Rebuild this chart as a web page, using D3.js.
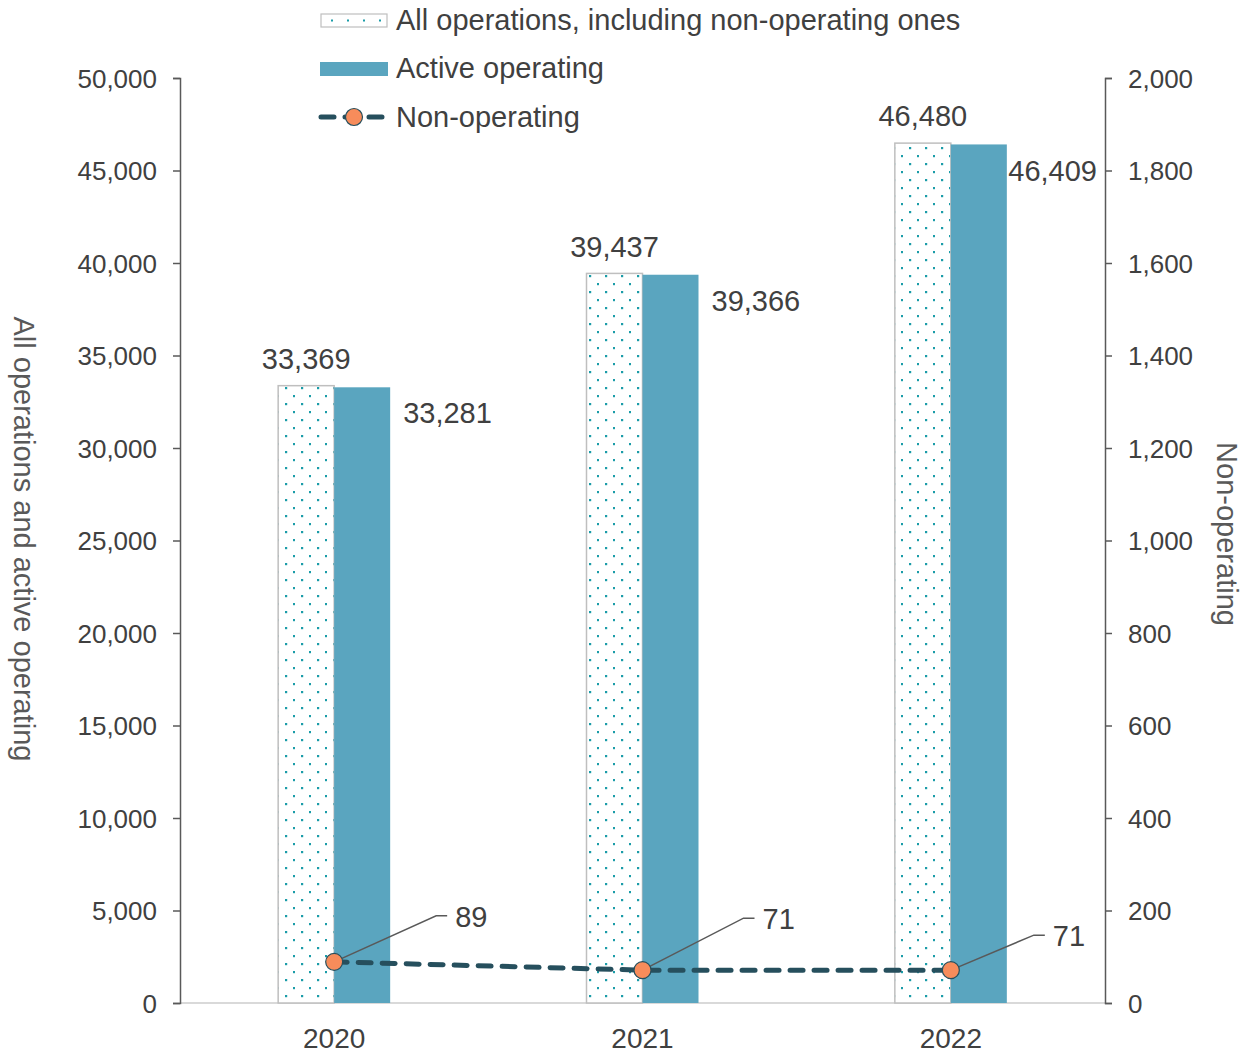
<!DOCTYPE html>
<html>
<head>
<meta charset="utf-8">
<script src="https://cdn.jsdelivr.net/npm/d3@7"></script>
<style>
  body { margin: 0; background: #fff; }
  svg text { font-family: "Liberation Sans", Arial, sans-serif; }
</style>
</head>
<body>
<div id="chart"></div>
<script>
// data
var years = ["2020", "2021", "2022"];
var allOps = [33369, 39437, 46480];
var activeOps = [33281, 39366, 46409];
var nonOps = [89, 71, 71];
var leftTicks = [0, 5000, 10000, 15000, 20000, 25000, 30000, 35000, 40000, 45000, 50000];
var rightTicks = [0, 200, 400, 600, 800, 1000, 1200, 1400, 1600, 1800, 2000];
var seriesNames = ["All operations, including non-operating ones", "Active operating", "Non-operating"];

var width = 1254, height = 1054;
var plotLeft = 180, plotRight = 1105, plotTop = 78, plotBottom = 1003;

var barColor = "#5aa5bf", dotColor = "#1a9ca8", lineColor = "#264f5d", markerColor = "#f78c5b";
var textColor = "#404040";

var svg = d3.select("#chart").append("svg")
  .attr("width", width).attr("height", height);

// dotted fill pattern
var defs = svg.append("defs");
var pat = defs.append("pattern")
  .attr("id", "dots").attr("patternUnits", "userSpaceOnUse")
  .attr("width", 16).attr("height", 16)
  .attr("x", 279).attr("y", 3);
pat.append("rect").attr("width", 16).attr("height", 16).attr("fill", "#fff");
pat.append("rect").attr("x", 6).attr("y", 0).attr("width", 2.2).attr("height", 2.2).attr("fill", dotColor);
pat.append("rect").attr("x", 14).attr("y", 8).attr("width", 2.2).attr("height", 2.2).attr("fill", dotColor);

var x = d3.scaleBand().domain(years).range([plotLeft, plotRight]);
var yL = d3.scaleLinear().domain([0, 50000]).range([plotBottom, plotTop]);
var yR = d3.scaleLinear().domain([0, 2000]).range([plotBottom, plotTop]);
var barW = 56;
var fmt = d3.format(",");

// bottom axis line
svg.append("line")
  .attr("x1", plotLeft).attr("x2", plotRight)
  .attr("y1", plotBottom).attr("y2", plotBottom)
  .attr("stroke", "#d9d9d9").attr("stroke-width", 2);

// left axis
var gL = svg.append("g").attr("transform", "translate(" + plotLeft + ",0)")
  .call(d3.axisLeft(yL).tickValues(leftTicks).tickFormat(fmt).tickSizeOuter(0).tickSize(7).tickPadding(16));
gL.select(".domain").attr("stroke", "#595959").attr("stroke-width", 1.5);
gL.selectAll(".tick line").attr("stroke", "#595959").attr("stroke-width", 1.5);
gL.selectAll(".tick text").attr("fill", textColor).style("font-size", "26px").attr("dy", "0.35em");

// right axis
var gR = svg.append("g").attr("transform", "translate(" + plotRight + ",0)")
  .call(d3.axisRight(yR).tickValues(rightTicks).tickFormat(fmt).tickSizeOuter(0).tickSize(7).tickPadding(16));
gR.select(".domain").attr("stroke", "#595959").attr("stroke-width", 1.5);
gR.selectAll(".tick line").attr("stroke", "#595959").attr("stroke-width", 1.5);
gR.selectAll(".tick text").attr("fill", textColor).style("font-size", "26px").attr("dy", "0.35em");

// x labels
svg.selectAll(".xlab").data(years).enter().append("text")
  .attr("x", function(d) { return x(d) + x.bandwidth() / 2; })
  .attr("y", 1048)
  .attr("text-anchor", "middle")
  .attr("fill", textColor).style("font-size", "28px")
  .text(function(d) { return d; });

// axis titles
svg.append("text")
  .attr("transform", "translate(14,539) rotate(90)")
  .attr("text-anchor", "middle")
  .attr("fill", "#595959").style("font-size", "29px")
  .text("All operations and active operating");
svg.append("text")
  .attr("transform", "translate(1217,534) rotate(90)")
  .attr("text-anchor", "middle")
  .attr("fill", "#595959").style("font-size", "29px")
  .text("Non-operating");

// bars: all operations (dotted)
svg.selectAll(".barAll").data(allOps).enter().append("rect")
  .attr("x", function(d, i) { return x(years[i]) + x.bandwidth() / 2 - barW; })
  .attr("y", function(d) { return yL(d); })
  .attr("width", barW)
  .attr("height", function(d) { return plotBottom - yL(d); })
  .attr("fill", "url(#dots)")
  .attr("stroke", "#bfbfbf").attr("stroke-width", 1.5);

// bars: active operating
svg.selectAll(".barAct").data(activeOps).enter().append("rect")
  .attr("x", function(d, i) { return x(years[i]) + x.bandwidth() / 2; })
  .attr("y", function(d) { return yL(d); })
  .attr("width", barW)
  .attr("height", function(d) { return plotBottom - yL(d); })
  .attr("fill", barColor);

// bar labels
svg.selectAll(".labAll").data(allOps).enter().append("text")
  .attr("x", function(d, i) { return x(years[i]) + x.bandwidth() / 2 - barW / 2; })
  .attr("y", function(d) { return yL(d) - 27; })
  .attr("dy", "0.35em")
  .attr("text-anchor", "middle")
  .attr("fill", textColor).style("font-size", "29px")
  .text(function(d) { return fmt(d); });
svg.selectAll(".labAct").data(activeOps).enter().append("text")
  .attr("y", function(d) { return yL(d) + 26; })
  .attr("dy", "0.35em")
  .attr("fill", textColor).style("font-size", "29px")
  .text(function(d) { return fmt(d); })
  .attr("x", function(d, i) {
    // keep label inside the plot area, like excel does
    var want = x(years[i]) + x.bandwidth() / 2 + barW + 13;
    var w = this.getComputedTextLength();
    return Math.min(want, plotRight - w - 8);
  });

// non-operating line
var line = d3.line()
  .x(function(d, i) { return x(years[i]) + x.bandwidth() / 2; })
  .y(function(d) { return yR(d); });
svg.append("path").datum(nonOps)
  .attr("d", line)
  .attr("fill", "none")
  .attr("stroke", lineColor).attr("stroke-width", 5)
  .attr("stroke-dasharray", "13,11").attr("stroke-linecap", "round");

// leader lines + labels (offsets from marker)
var leaderOff = [[102, -46], [101, -52], [83, -35]];
nonOps.forEach(function(d, i) {
  var cx = x(years[i]) + x.bandwidth() / 2, cy = yR(d);
  var ex = cx + leaderOff[i][0], ey = cy + leaderOff[i][1];
  svg.append("polyline")
    .attr("points", [cx, cy, ex, ey, ex + 11, ey].join(","))
    .attr("fill", "none").attr("stroke", "#595959").attr("stroke-width", 1.5);
  svg.append("text")
    .attr("x", ex + 19).attr("y", ey + 1).attr("dy", "0.35em")
    .attr("fill", textColor).style("font-size", "29px")
    .text(d);
});

svg.selectAll(".marker").data(nonOps).enter().append("circle")
  .attr("cx", function(d, i) { return x(years[i]) + x.bandwidth() / 2; })
  .attr("cy", function(d) { return yR(d); })
  .attr("r", 8.5)
  .attr("fill", markerColor).attr("stroke", lineColor).attr("stroke-width", 1.2);

// legend
var leg = svg.append("g");
leg.append("rect").attr("x", 321).attr("y", 14).attr("width", 66).attr("height", 13)
  .attr("fill", "#fff").attr("stroke", "#bfbfbf").attr("stroke-width", 1.2);
[331, 347, 363, 379].forEach(function(px) {
  leg.append("rect").attr("x", px).attr("y", 19.5).attr("width", 2).attr("height", 2).attr("fill", dotColor);
});
leg.append("rect").attr("x", 320).attr("y", 62).attr("width", 68).attr("height", 14).attr("fill", barColor);
leg.append("line").attr("x1", 321).attr("x2", 386).attr("y1", 117).attr("y2", 117)
  .attr("stroke", lineColor).attr("stroke-width", 5)
  .attr("stroke-dasharray", "13,11").attr("stroke-linecap", "round");
leg.append("circle").attr("cx", 354).attr("cy", 117).attr("r", 8.5)
  .attr("fill", markerColor).attr("stroke", lineColor).attr("stroke-width", 1.2);
var legY = [20, 68, 117];
seriesNames.forEach(function(n, i) {
  leg.append("text").attr("x", 396).attr("y", legY[i]).attr("dy", "0.35em")
    .attr("fill", textColor).style("font-size", "29px").text(n);
});
</script>
</body>
</html>
